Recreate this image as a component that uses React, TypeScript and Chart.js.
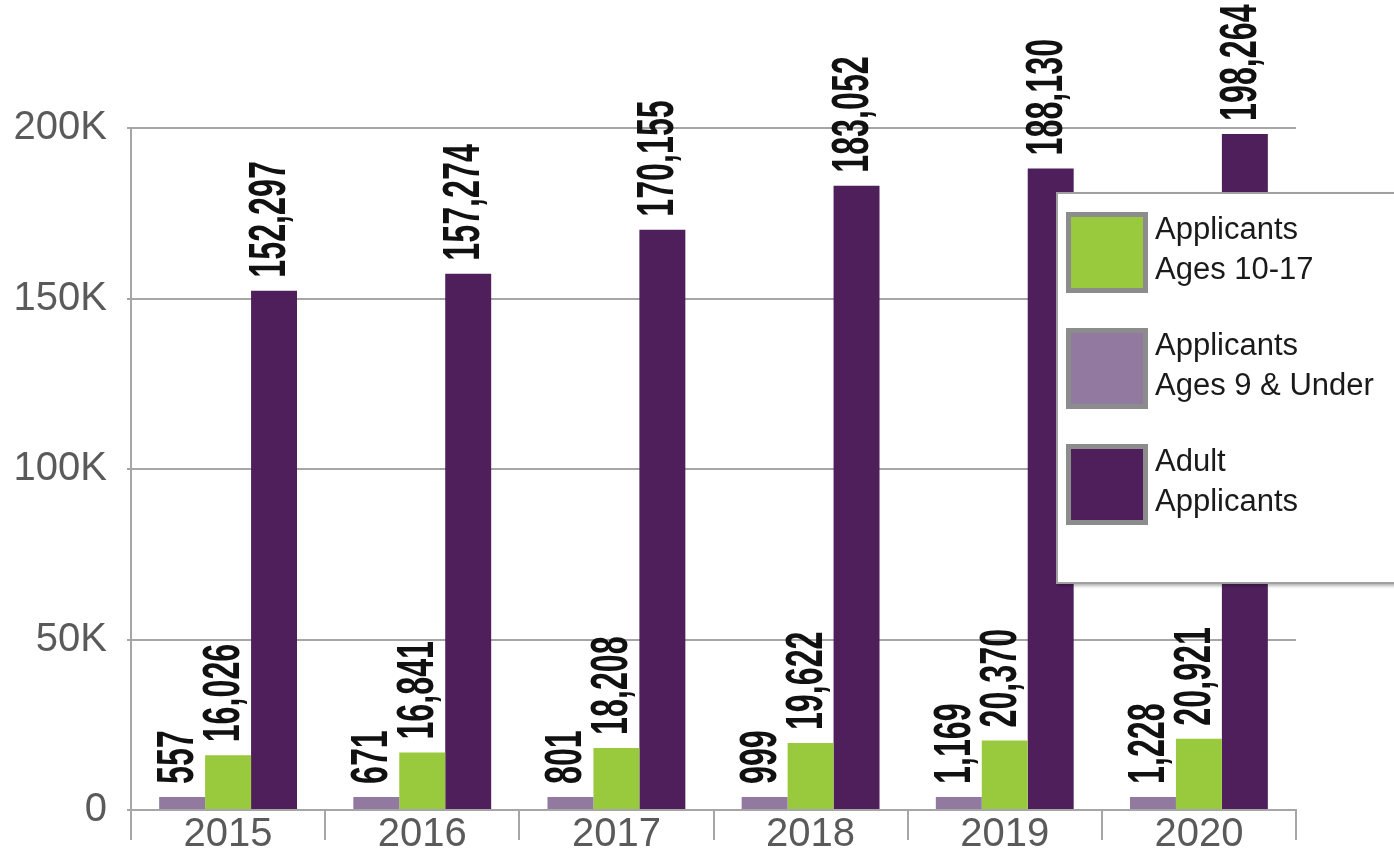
import React, { useEffect, useRef } from 'react';
import { Chart, registerables } from 'chart.js';

Chart.register(...registerables);

const years = ['2015', '2016', '2017', '2018', '2019', '2020'];
const under9 = [557, 671, 801, 999, 1169, 1228];
const ages10to17 = [16026, 16841, 18208, 19622, 20370, 20921];
const adults = [152297, 157274, 170155, 183052, 188130, 198264];
const yTickValues = [0, 50000, 100000, 150000, 200000];

const seriesLabels = ['Applicants Ages 9 & Under', 'Applicants Ages 10-17', 'Adult Applicants'];
const seriesColors = ['#9179a0', '#99c93c', '#4f1f5c'];
const legendOrder = [1, 0, 2];
const legendLines = [
  ['Applicants', 'Ages 9 & Under'],
  ['Applicants', 'Ages 10-17'],
  ['Adult', 'Applicants'],
];

const GRID = '#a6a6a6';
const TICK = '#5a5a5a';
const FONT = "'Liberation Sans', Arial, sans-serif";

const valueLabels = {
  id: 'valueLabels',
  afterDatasetsDraw(chart: any) {
    const ctx = chart.ctx;
    chart.data.datasets.forEach((ds: any, di: number) => {
      const meta = chart.getDatasetMeta(di);
      meta.data.forEach((el: any, i: number) => {
        const v = ds.data[i] as number;
        const text = v.toLocaleString('en-US');
        ctx.save();
        ctx.translate(el.x + 11, el.y - 13);
        ctx.rotate(-Math.PI / 2);
        ctx.scale(0.62, 1);
        ctx.font = `bold 52px ${FONT}`;
        ctx.fillStyle = '#111111';
        ctx.textAlign = 'left';
        ctx.textBaseline = 'alphabetic';
        ctx.fillText(text, 0, 0);
        ctx.restore();
      });
    });
  },
};

export default function App() {
  const canvasRef = useRef<HTMLCanvasElement | null>(null);

  useEffect(() => {
    document.body.style.margin = '0';
    const canvas = canvasRef.current;
    if (!canvas) return;
    const chart = new Chart(canvas, {
      type: 'bar',
      data: {
        labels: years,
        datasets: [
          { label: seriesLabels[0], data: under9, backgroundColor: seriesColors[0], minBarLength: 13 },
          { label: seriesLabels[1], data: ages10to17, backgroundColor: seriesColors[1] },
          { label: seriesLabels[2], data: adults, backgroundColor: seriesColors[2] },
        ],
      },
      options: {
        responsive: false,
        animation: false,
        events: [],
        datasets: { bar: { categoryPercentage: 0.71, barPercentage: 1.0 } },
        layout: { padding: { top: 128, right: 98, left: 0, bottom: 0 } },
        plugins: { legend: { display: false }, tooltip: { enabled: false } },
        scales: {
          x: {
            grid: {
              drawOnChartArea: false,
              drawTicks: true,
              tickLength: 30,
              color: GRID,
              lineWidth: 2,
              offset: true,
            },
            border: { display: true, color: GRID, width: 2 },
            ticks: {
              color: TICK,
              font: { family: FONT, size: 40 },
              padding: -29,
              maxRotation: 0,
            },
            afterFit(scale: any) {
              scale.height = 44;
            },
          },
          y: {
            min: 0,
            max: 200000,
            afterBuildTicks(scale: any) {
              scale.ticks = yTickValues.map((v) => ({ value: v }));
            },
            grid: { color: GRID, lineWidth: 2, tickLength: 4, drawTicks: true },
            border: { display: true, color: GRID, width: 2 },
            ticks: {
              color: TICK,
              font: { family: FONT, size: 40 },
              padding: 20,
              callback: (v: any) => (v === 0 ? '0' : `${Number(v) / 1000}K`),
            },
            afterFit(scale: any) {
              scale.width = 131;
            },
          },
        },
      },
      plugins: [valueLabels],
    });
    return () => chart.destroy();
  }, []);

  const itemTops = [212, 328, 444];

  return (
    <div style={{ position: 'absolute', left: 0, top: 0, width: 1394, height: 854, overflow: 'hidden', background: '#fff' }}>
      <canvas ref={canvasRef} width={1394} height={854} style={{ display: 'block' }} />
      <div
        style={{
          position: 'absolute',
          left: 1056,
          top: 192,
          width: 360,
          height: 392,
          background: '#fff',
          border: '2px solid #a0a0a0',
          boxShadow: '2px 2px 3px rgba(0,0,0,0.3)',
          boxSizing: 'border-box',
        }}
      >
        {legendOrder.map((si, k) => (
          <React.Fragment key={si}>
            <div
              style={{
                position: 'absolute',
                left: 1066 - 1058,
                top: itemTops[k] - 194,
                width: 82,
                height: 81,
                boxSizing: 'border-box',
                border: '5px solid #8c8c8c',
                background: seriesColors[si],
              }}
            />
            <div
              style={{
                position: 'absolute',
                left: 1155 - 1058,
                top: itemTops[k] - 197,
                fontFamily: FONT,
                fontSize: 31,
                lineHeight: '40px',
                color: '#1a1a1a',
                whiteSpace: 'nowrap',
              }}
            >
              {legendLines[si].map((line, j) => (
                <div key={j}>{line}</div>
              ))}
            </div>
          </React.Fragment>
        ))}
      </div>
    </div>
  );
}
